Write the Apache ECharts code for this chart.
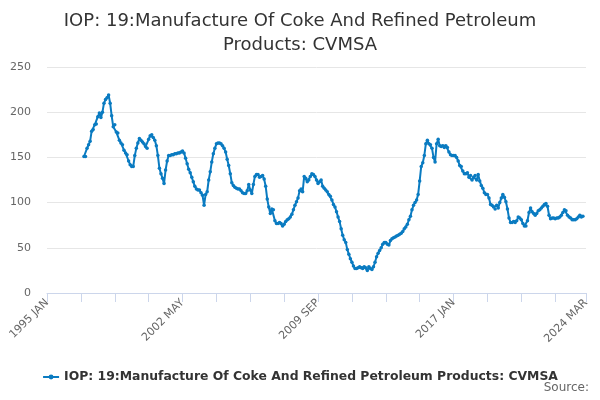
<!DOCTYPE html>
<html>
  <head>
    <meta charset="utf-8">
    <title>IOP: 19 CVMSA</title>
    <script src="https://cdn.jsdelivr.net/npm/echarts@6/dist/echarts.min.js"></script>
    <style>
      html, body { margin: 0; padding: 0; background: #fff; }
    </style>
  </head>
  <body>
    <div id="main" style="width: 600px; height: 400px"></div>
    <script type="text/javascript">
      // month names for the category labels
      var monthNames = ['JAN', 'FEB', 'MAR', 'APR', 'MAY', 'JUN', 'JUL', 'AUG', 'SEP', 'OCT', 'NOV', 'DEC'];
      var firstYear = 1995;
      var lastYear = 2024, lastMonth = 2; // 2024 MAR

      // series starts at 1997 JAN
      var seriesStart = '1997 JAN';
      var values = [
        151, 151, 160, 164, 168, 179, 181, 186, 187, 195, 199, 194,
        200, 210, 214, 216, 219, 210, 196, 184, 186, 178, 177, 169,
        166, 164, 158, 155, 153, 146, 142, 140, 140, 152, 160, 166,
        171, 169, 167, 165, 162, 160, 170, 174, 175, 172, 169, 163,
        152, 138, 132, 127, 121, 136, 146, 152, 152, 153, 153, 154,
        154, 155, 155, 156, 157, 155, 149, 143, 137, 133, 128, 123,
        118, 115, 114, 114, 111, 108, 97, 109, 112, 125, 134, 145,
        154, 160, 165, 166, 166, 165, 163, 160, 156, 148, 141, 132,
        122, 119, 117, 116, 115, 115, 113, 111, 110, 110, 113, 120,
        114, 110, 120, 129, 131, 131, 128, 129, 130, 126, 118, 104,
        95, 88, 93, 92, 80, 77, 77, 78, 77, 74, 76, 79,
        81, 82, 84, 87, 92, 97, 101, 105, 113, 115, 112, 129,
        127, 123, 125, 129, 132, 131, 129, 125, 121, 123, 125, 118,
        116, 114, 112, 109, 107, 103, 98, 95, 90, 84, 79, 71,
        64, 59, 56, 48, 43, 38, 34, 30, 27, 27, 28, 29,
        28, 27, 29, 28, 25, 29, 27, 26, 29, 34, 40, 44,
        47, 50, 54, 56, 56, 54, 53, 58, 60, 61, 62, 63,
        64, 65, 66, 68, 71, 73, 76, 81, 85, 92, 97, 100,
        103, 109, 124, 140, 144, 152, 165, 169, 165, 164, 160, 150,
        145, 165, 170, 163, 162, 163, 161, 163, 161, 156, 153, 152,
        152, 152, 150, 146, 141, 140, 135, 132, 132, 133, 128, 130,
        125, 128, 130, 125, 131, 124, 119, 116, 111, 109, 109, 105,
        98, 97, 95, 93, 97, 94, 100, 105, 109, 106, 101, 93,
        83, 78, 78, 79, 78, 80, 84, 83, 81, 77, 74, 74,
        80, 89, 94, 90, 88, 86, 88, 91, 92, 94, 96, 98,
        99, 96, 86, 82, 83, 83, 82, 83, 83, 84, 86, 89,
        92, 91, 86, 84, 83, 81, 81, 81, 82, 84, 86, 84,
        85
      ];
      var yTicks = [0, 50, 100, 150, 200, 250];
      var seriesName = 'IOP: 19:Manufacture Of Coke And Refined Petroleum Products: CVMSA';

      var months = [];
      for (var y = firstYear; y <= lastYear; y++) {
        for (var m = 0; m < 12; m++) {
          if (y === lastYear && m > lastMonth) break;
          months.push(y + ' ' + monthNames[m]);
        }
      }

      var offset = months.indexOf(seriesStart);
      var data = [];
      for (var i = 0; i < months.length; i++) {
        var v = values[i - offset];
        data.push(i >= offset && v !== undefined ? v : null);
      }

      var font = 'DejaVu Sans';
      var myChart = echarts.init(document.getElementById('main'));
      var option = {
        animation: false,
        title: {
          text: 'IOP: 19:Manufacture Of Coke And Refined Petroleum\nProducts: CVMSA',
          left: 'center',
          top: 4,
          textStyle: { fontFamily: font, fontSize: 18, fontWeight: 'normal', color: '#333333', lineHeight: 24 }
        },
        legend: {
          data: [seriesName],
          left: 'center',
          top: 366,
          itemWidth: 16,
          itemHeight: 6,
          itemGap: 4,
          textStyle: { fontFamily: font, fontSize: 12.4, fontWeight: 'bold', color: '#333333' }
        },
        graphic: [{
          type: 'text',
          right: 11,
          top: 382,
          style: { text: 'Source:', fontFamily: font, fontSize: 12, fill: '#666666' }
        }],
        grid: { left: 47, right: 14, top: 67, bottom: 107 },
        xAxis: {
          type: 'category',
          data: months,
          boundaryGap: false,
          axisLine: { lineStyle: { color: '#ccd6eb' } },
          axisTick: { interval: 21, length: 9, lineStyle: { color: '#ccd6eb' } },
          axisLabel: {
            interval: 87,
            showMaxLabel: true,
            rotate: 45,
            fontFamily: font,
            fontSize: 11,
            color: '#666666',
            margin: 8
          },
          splitLine: { show: false }
        },
        yAxis: {
          type: 'value',
          min: yTicks[0],
          max: yTicks[yTicks.length - 1],
          interval: 50,
          axisLine: { show: false },
          axisTick: { show: false },
          axisLabel: { fontFamily: font, fontSize: 11, color: '#666666', margin: 16 },
          splitLine: { lineStyle: { color: '#e6e6e6' } }
        },
        series: [{
          name: seriesName,
          type: 'line',
          data: data,
          connectNulls: false,
          symbol: 'circle',
          symbolSize: 3.5,
          showAllSymbol: true,
          itemStyle: { color: '#0a7bc1' },
          lineStyle: { width: 2, color: '#0a7bc1' }
        }]
      };
      myChart.setOption(option);
    </script>
  </body>
</html>
